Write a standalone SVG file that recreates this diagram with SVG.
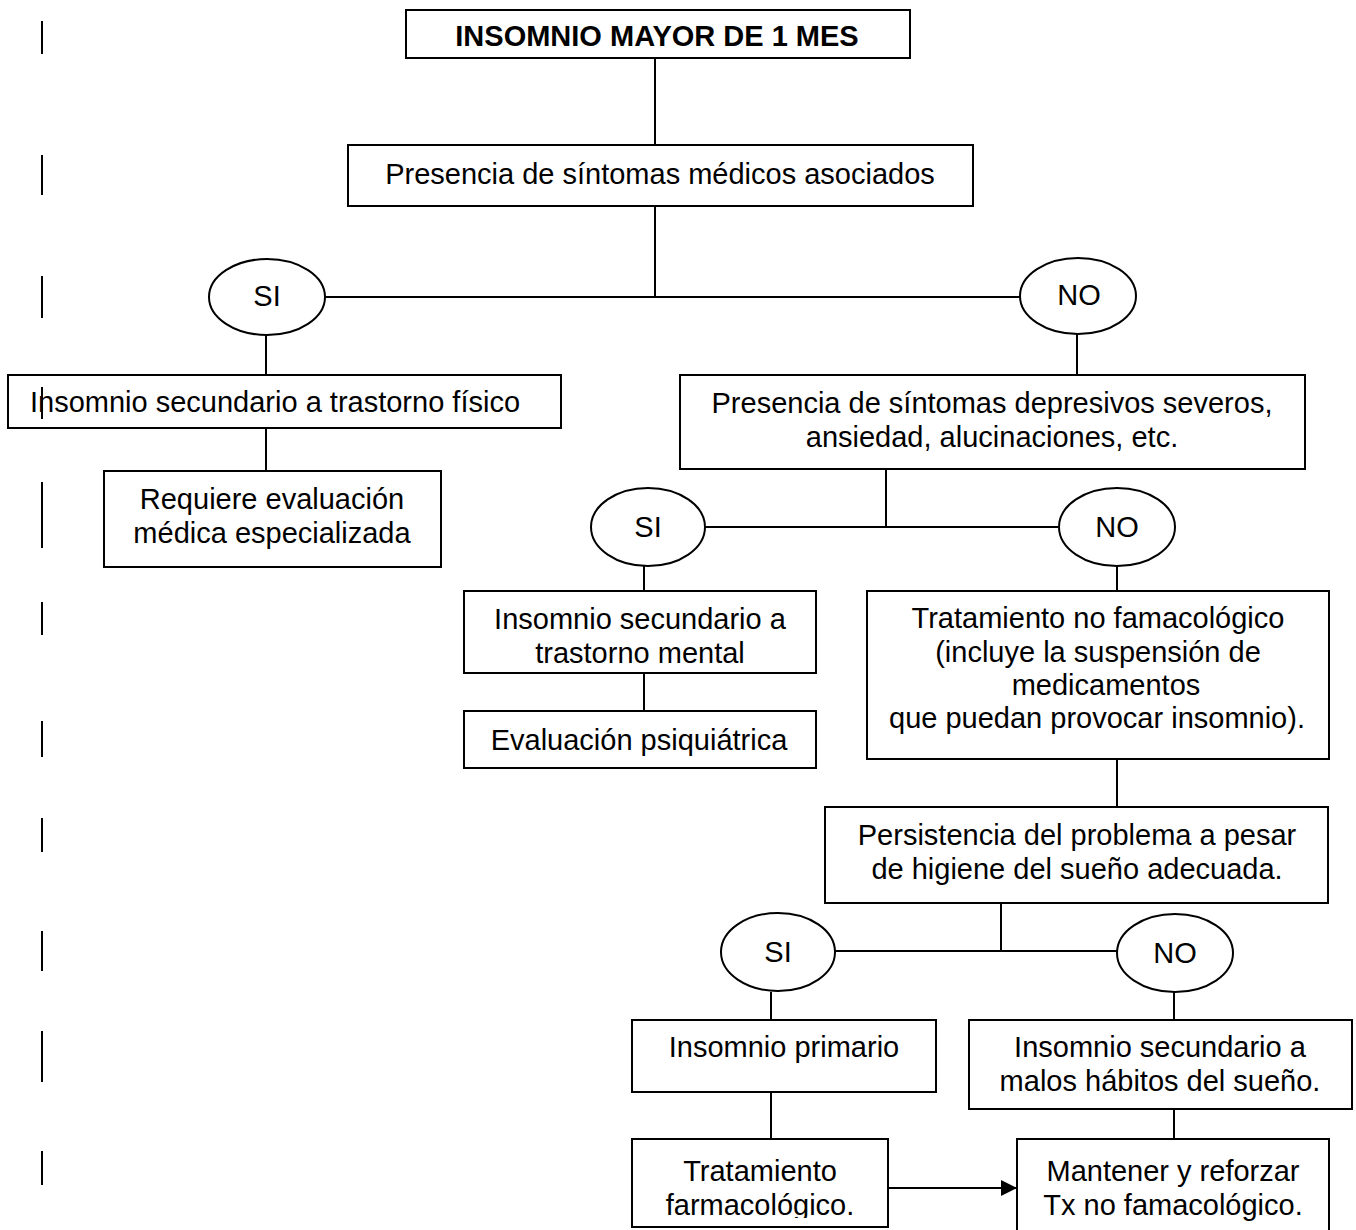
<svg xmlns="http://www.w3.org/2000/svg" width="1356" height="1230" viewBox="0 0 1356 1230">
<style>
  .box{fill:#fff;stroke:#000;stroke-width:2}
  .ell{fill:#fff;stroke:#000;stroke-width:2}
  .ln{stroke:#000;stroke-width:2;fill:none}
  .bar{stroke:#000;stroke-width:2}
  text{font-family:"Liberation Sans",Arial,sans-serif;font-size:29px;fill:#000;text-anchor:middle}
  .b{font-weight:bold}
</style>
<defs>
  <marker id="arr" markerWidth="16" markerHeight="16" refX="16" refY="8" orient="auto" markerUnits="userSpaceOnUse">
    <path d="M0,0 L16,8 L0,16 Z" fill="#000"/>
  </marker>
  <clipPath id="clipT"><rect x="632" y="1139" width="256" height="79"/></clipPath>
</defs>
<rect width="1356" height="1230" fill="#fff"/>

<g id="margin-bars">
  <line class="bar" x1="42" y1="21" x2="42" y2="54"/>
  <line class="bar" x1="42" y1="155" x2="42" y2="195"/>
  <line class="bar" x1="42" y1="276" x2="42" y2="318"/>
  <line class="bar" x1="42" y1="482" x2="42" y2="548"/>
  <line class="bar" x1="42" y1="602" x2="42" y2="635"/>
  <line class="bar" x1="42" y1="721" x2="42" y2="757"/>
  <line class="bar" x1="42" y1="818" x2="42" y2="852"/>
  <line class="bar" x1="42" y1="931" x2="42" y2="971"/>
  <line class="bar" x1="42" y1="1031" x2="42" y2="1082"/>
  <line class="bar" x1="42" y1="1151" x2="42" y2="1185"/>
</g>

<g id="connectors">
  <line class="ln" x1="655" y1="59" x2="655" y2="145"/>
  <line class="ln" x1="655" y1="206" x2="655" y2="297"/>
  <line class="ln" x1="325" y1="297" x2="1020" y2="297"/>
  <line class="ln" x1="266" y1="335" x2="266" y2="375"/>
  <line class="ln" x1="266" y1="428" x2="266" y2="471"/>
  <line class="ln" x1="1077" y1="333" x2="1077" y2="375"/>
  <line class="ln" x1="886" y1="469" x2="886" y2="527"/>
  <line class="ln" x1="705" y1="527" x2="1058" y2="527"/>
  <line class="ln" x1="644" y1="566" x2="644" y2="591"/>
  <line class="ln" x1="644" y1="673" x2="644" y2="711"/>
  <line class="ln" x1="1117" y1="565" x2="1117" y2="591"/>
  <line class="ln" x1="1117" y1="759" x2="1117" y2="807"/>
  <line class="ln" x1="1001" y1="903" x2="1001" y2="951"/>
  <line class="ln" x1="835" y1="951" x2="1117" y2="951"/>
  <line class="ln" x1="771" y1="992" x2="771" y2="1020"/>
  <line class="ln" x1="771" y1="1092" x2="771" y2="1139"/>
  <line class="ln" x1="1174" y1="992" x2="1174" y2="1020"/>
  <line class="ln" x1="1174" y1="1109" x2="1174" y2="1139"/>
  <line class="ln" x1="888" y1="1188" x2="1017" y2="1188" marker-end="url(#arr)"/>
</g>

<g id="n-insomnio">
  <rect class="box" x="406" y="10" width="504" height="48"/>
  <text class="b" x="657" y="46">INSOMNIO MAYOR DE 1 MES</text>
</g>
<g id="n-sintomas-medicos">
  <rect class="box" x="348" y="145" width="625" height="61"/>
  <text x="660" y="184">Presencia de síntomas médicos asociados</text>
</g>
<g id="n-si1">
  <ellipse class="ell" cx="267" cy="297" rx="58" ry="38"/>
  <text x="267" y="306">SI</text>
</g>
<g id="n-no1">
  <ellipse class="ell" cx="1078" cy="296" rx="58" ry="38"/>
  <text x="1079" y="305">NO</text>
</g>
<g id="n-fisico">
  <rect class="box" x="8" y="375" width="553" height="53"/>
  <text x="30" y="412" style="text-anchor:start">Insomnio secundario a trastorno físico</text>
  <line class="bar" x1="42" y1="387" x2="42" y2="419"/>
</g>
<g id="n-requiere">
  <rect class="box" x="104" y="471" width="337" height="96"/>
  <text x="272" y="509">Requiere evaluación</text>
  <text x="272" y="543">médica especializada</text>
</g>
<g id="n-depresivos">
  <rect class="box" x="680" y="375" width="625" height="94"/>
  <text x="992" y="413">Presencia de síntomas depresivos severos,</text>
  <text x="992" y="447">ansiedad, alucinaciones, etc.</text>
</g>
<g id="n-si2">
  <ellipse class="ell" cx="648" cy="527" rx="57" ry="39"/>
  <text x="648" y="537">SI</text>
</g>
<g id="n-no2">
  <ellipse class="ell" cx="1117" cy="527" rx="58" ry="39"/>
  <text x="1117" y="537">NO</text>
</g>
<g id="n-mental">
  <rect class="box" x="464" y="591" width="352" height="82"/>
  <text x="640" y="629">Insomnio secundario a</text>
  <text x="640" y="663">trastorno mental</text>
</g>
<g id="n-psiquiatrica">
  <rect class="box" x="464" y="711" width="352" height="57"/>
  <text x="639" y="750">Evaluación psiquiátrica</text>
</g>
<g id="n-no-farmaco">
  <rect class="box" x="867" y="591" width="462" height="168"/>
  <text x="1098" y="628">Tratamiento no famacológico</text>
  <text x="1098" y="662">(incluye la suspensión de</text>
  <text x="1106" y="695">medicamentos</text>
  <text x="1097" y="728">que puedan provocar insomnio).</text>
</g>
<g id="n-persistencia">
  <rect class="box" x="825" y="807" width="503" height="96"/>
  <text x="1077" y="845">Persistencia del problema a pesar</text>
  <text x="1077" y="879">de higiene del sueño adecuada.</text>
</g>
<g id="n-si3">
  <ellipse class="ell" cx="778" cy="952" rx="57" ry="39"/>
  <text x="778" y="962">SI</text>
</g>
<g id="n-no3">
  <ellipse class="ell" cx="1175" cy="953" rx="58" ry="39"/>
  <text x="1175" y="963">NO</text>
</g>
<g id="n-primario">
  <rect class="box" x="632" y="1020" width="304" height="72"/>
  <text x="784" y="1057">Insomnio primario</text>
</g>
<g id="n-habitos">
  <rect class="box" x="969" y="1020" width="383" height="89"/>
  <text x="1160" y="1057">Insomnio secundario a</text>
  <text x="1160" y="1091">malos hábitos del sueño.</text>
</g>
<g id="n-farmacologico">
  <rect class="box" x="632" y="1139" width="256" height="88"/>
  <g clip-path="url(#clipT)">
    <text x="760" y="1181">Tratamiento</text>
    <text x="760" y="1215">farmacológico.</text>
  </g>
</g>
<g id="n-mantener">
  <rect class="box" x="1017" y="1139" width="312" height="110"/>
  <text x="1173" y="1181">Mantener y reforzar</text>
  <text x="1173" y="1215">Tx no famacológico.</text>
</g>
</svg>
